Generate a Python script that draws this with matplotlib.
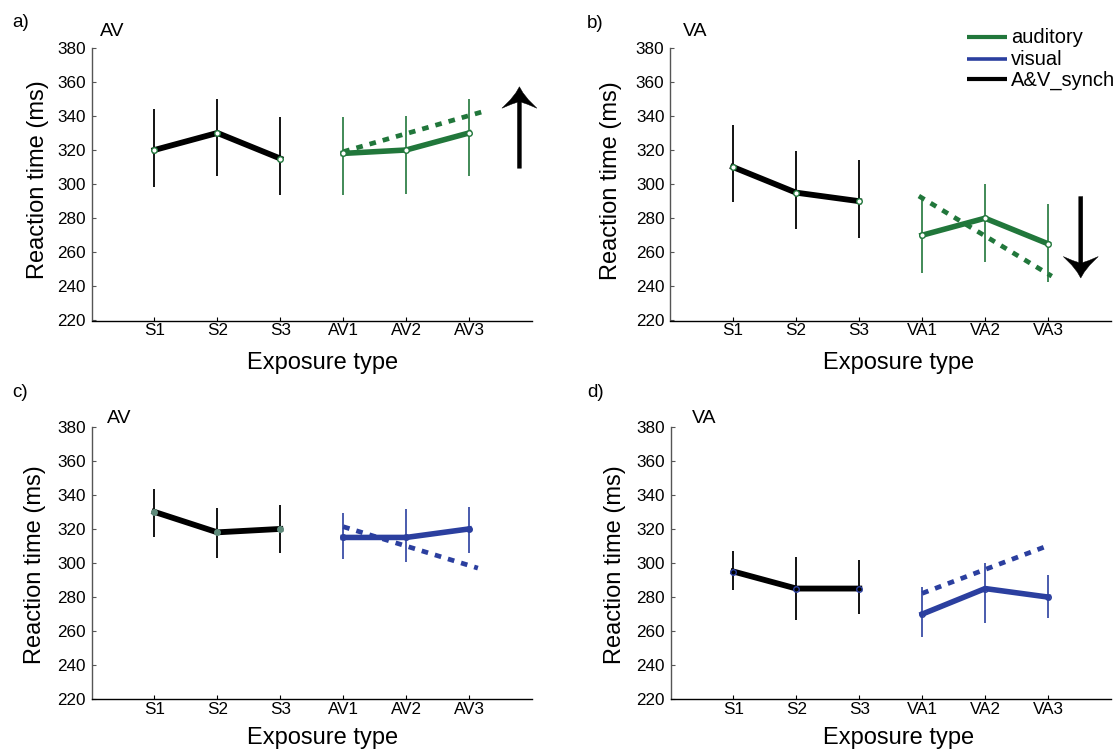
import matplotlib
matplotlib.use('Agg')
import matplotlib.pyplot as plt
from matplotlib.lines import Line2D
from matplotlib.patches import Polygon
import numpy as np

plt.rcParams['font.family'] = ['Liberation Sans', 'DejaVu Sans']

# ---------------- data ----------------
labels_av = ['S1', 'S2', 'S3', 'AV1', 'AV2', 'AV3']
labels_va = ['S1', 'S2', 'S3', 'VA1', 'VA2', 'VA3']
yticks = [220, 240, 260, 280, 300, 320, 340, 360, 380]

# panel a (AV, auditory)
a_sync = [320, 330, 315]
a_sync_lo = [298.5, 304.8, 293.6]
a_sync_hi = [344, 350, 339.2]
a_exp = [318, 320, 330]
a_exp_lo = [293.6, 294.4, 304.8]
a_exp_hi = [339.2, 340, 350]
a_pred_x = [4.0, 6.22]
a_pred_y = [319, 342.5]
a_arrow = (6.80, 309.3, 357.1)   # x, tail, tip

# panel b (VA, auditory)
b_sync = [310, 295, 290]
b_sync_lo = [289.5, 273.9, 268.6]
b_sync_hi = [334.7, 319.4, 314.2]
b_exp = [270, 280, 265]
b_exp_lo = [248, 254.4, 242.8]
b_exp_hi = [292.7, 299.9, 288.4]
b_pred_x = [3.95, 6.06]
b_pred_y = [293, 246]
b_arrow = (6.52, 292.7, 244.9)

# panel c (AV, visual)
c_sync = [330, 318, 320]
c_sync_lo = [315.4, 302.7, 306]
c_sync_hi = [343.4, 332.1, 334]
c_exp = [315, 315, 320]
c_exp_lo = [302.3, 300.6, 306]
c_exp_hi = [329.1, 331.5, 333]
c_pred_x = [4.0, 6.14]
c_pred_y = [321.3, 297]

# panel d (VA, visual)
d_sync = [295, 285, 285]
d_sync_lo = [284.2, 266.5, 269.9]
d_sync_hi = [307.2, 303.7, 301.7]
d_exp = [270, 285, 280]
d_exp_lo = [256.8, 265, 267.9]
d_exp_hi = [285.7, 299.8, 292.9]
d_pred_x = [4.0, 6.0]
d_pred_y = [282.2, 310.2]

legend_labels = ['auditory', 'visual', 'A&V_synch']

GREEN = '#21773b'
BLUE = '#2b3f9f'
legend_colors = [GREEN, BLUE, 'black']

# ---------------- layout ----------------
W, H = 1120, 749
fig = plt.figure(figsize=(W / 100, H / 100), dpi=100)


def rect(l, r, t, b):
    return [l / W, 1 - b / H, (r - l) / W, (b - t) / H]


def ftext(x, y, s, **kw):
    fig.text(x / W, 1 - y / H, s, **kw)


def draw_arrow(ax, x, y0, y1):
    t0 = ax.transData.transform((x, y0))
    t1 = ax.transData.transform((x, y1))
    d = 1 if t1[1] > t0[1] else -1
    L = abs(t1[1] - t0[1])
    hw = 17.5
    sw = 2.0
    shape = [(0, 0), (3.5, -6), (9, -13), (hw, -21.5), (8, -17.5), (sw, -15.5),
             (sw, -L), (-sw, -L), (-sw, -15.5), (-8, -17.5), (-hw, -21.5),
             (-9, -13), (-3.5, -6)]
    pts = np.array([(t1[0] + px, t1[1] + d * py) for px, py in shape])
    pts = ax.transData.inverted().transform(pts)
    ax.add_patch(Polygon(pts, closed=True, facecolor='black', edgecolor='black',
                         lw=0.3, zorder=5, clip_on=False))


def draw_panel(ax, xt, sync, s_lo, s_hi, exp, e_lo, e_hi, px, py, color,
               s_mfc, s_mec, e_mfc, e_mec):
    ax.set_xlim(0, 7)
    ax.set_ylim(220, 380)
    x_s = np.arange(1, 4)
    x_e = np.arange(4, 7)
    ax.vlines(x_s, s_lo, s_hi, color='black', lw=1.3, zorder=2)
    ax.vlines(x_e, e_lo, e_hi, color=color, lw=1.2, zorder=2)
    ax.plot(px, py, color=color, lw=3.4, dashes=(1.4, 1.5),
            dash_capstyle='butt', zorder=3)
    ax.plot(x_s, sync, color='black', lw=4.2, solid_joinstyle='round',
            marker='o', ms=4.0, mew=1.0, mfc=s_mfc, mec=s_mec, zorder=4)
    ax.plot(x_e, exp, color=color, lw=4.0, solid_joinstyle='round',
            marker='o', ms=4.0, mew=1.0, mfc=e_mfc, mec=e_mec, zorder=4)
    ax.set_xticks(np.arange(1, 7))
    ax.set_xticklabels(xt)
    ax.set_yticks(yticks)
    ax.spines['top'].set_visible(False)
    ax.spines['right'].set_visible(False)
    ax.spines['left'].set_color('#555555')
    ax.spines['left'].set_linewidth(1.0)
    ax.spines['bottom'].set_linewidth(1.0)
    ax.tick_params(direction='in', length=3, width=0.8, labelsize=12.3)
    ax.tick_params(axis='x', pad=2.0)
    ax.tick_params(axis='y', pad=4.0, color='#555555')


ax_a = fig.add_axes(rect(91.5, 532, 47.7, 320.5))
ax_b = fig.add_axes(rect(670, 1111, 47.7, 320.5))
ax_c = fig.add_axes(rect(91.5, 532, 426.7, 699.3))
ax_d = fig.add_axes(rect(670.5, 1111, 426.7, 699.3))

draw_panel(ax_a, labels_av, a_sync, a_sync_lo, a_sync_hi, a_exp, a_exp_lo,
           a_exp_hi, a_pred_x, a_pred_y, GREEN, 'white', GREEN, 'white', GREEN)
draw_panel(ax_b, labels_va, b_sync, b_sync_lo, b_sync_hi, b_exp, b_exp_lo,
           b_exp_hi, b_pred_x, b_pred_y, GREEN, 'white', GREEN, 'white', GREEN)
draw_panel(ax_c, labels_av, c_sync, c_sync_lo, c_sync_hi, c_exp, c_exp_lo,
           c_exp_hi, c_pred_x, c_pred_y, BLUE, '#5e8a7a', '#5e8a7a', BLUE, BLUE)
draw_panel(ax_d, labels_va, d_sync, d_sync_lo, d_sync_hi, d_exp, d_exp_lo,
           d_exp_hi, d_pred_x, d_pred_y, BLUE, 'none', BLUE, 'none', BLUE)

draw_arrow(ax_a, *a_arrow)
draw_arrow(ax_b, *b_arrow)

# panel letters and titles
ftext(12.5, 26.7, 'a)', fontsize=13.5, va='baseline')
ftext(100, 36, 'AV', fontsize=14, va='baseline')
ftext(586.8, 28.3, 'b)', fontsize=13.5, va='baseline')
ftext(683.2, 36, 'VA', fontsize=14, va='baseline')
ftext(12.5, 396.7, 'c)', fontsize=13.5, va='baseline')
ftext(107, 422.7, 'AV', fontsize=14, va='baseline')
ftext(586.8, 397.3, 'd)', fontsize=13.5, va='baseline')
ftext(692, 422.7, 'VA', fontsize=14, va='baseline')

# axis labels
for (cx, by) in [(322.6, 369.3), (898.4, 369.3), (322.3, 744), (898.4, 744)]:
    ftext(cx, by, 'Exposure type', fontsize=17, ha='center', va='baseline')
for (cx, cy) in [(38, 180), (611.5, 181), (35, 564.2), (614.5, 564.2)]:
    ftext(cx, cy, 'Reaction time (ms)', fontsize=17, ha='center', va='center',
          rotation=90)

# legend (drawn manually)
row_y = [37.3, 59, 79.3]
row_lw = [3.0, 2.6, 3.0]
for lab, col, ry, lw in zip(legend_labels, legend_colors, row_y, row_lw):
    fig.add_artist(Line2D([966.7 / W, 1007.3 / W], [1 - ry / H, 1 - ry / H],
                          color=col, lw=lw, solid_capstyle='butt'))
    ftext(1010.7, ry + 6, lab, fontsize=14.5, va='baseline')

fig.savefig('out.png', dpi=100)
